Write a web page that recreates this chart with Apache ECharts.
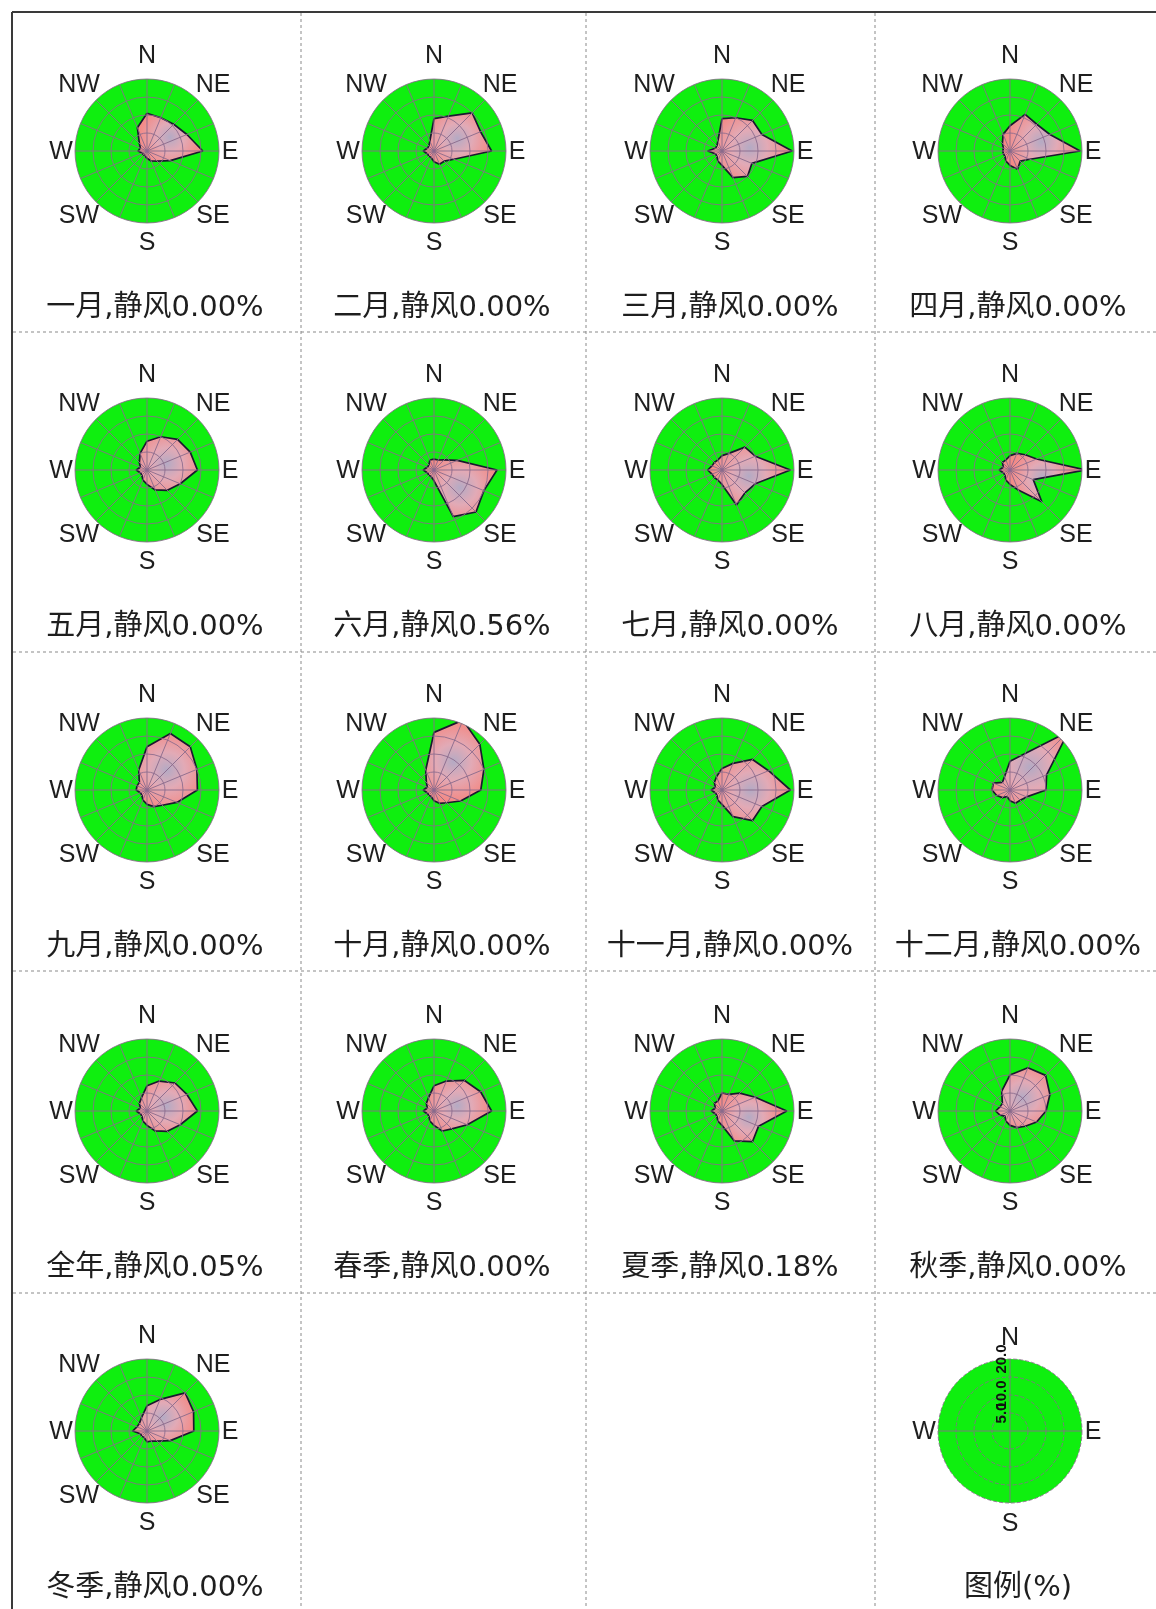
<!DOCTYPE html>
<html>
<head>
<meta charset="utf-8">
<script src="https://cdn.jsdelivr.net/npm/echarts@6/dist/echarts.min.js"></script>
<style>
  html, body { margin: 0; padding: 0; background: #ffffff; }
  #chart { width: 1156px; height: 1609px; }
</style>
</head>
<body>
<div id="chart"></div>
<script>
// Sixteen compass directions, clockwise from north
const directions = ['N','NNE','NE','ENE','E','ESE','SE','SSE','S','SSW','SW','WSW','W','WNW','NW','NNW'];

// Wind direction frequencies (%) for each period, in the order of `directions`
const jan    = [10.5, 10, 10.5, 12, 15.5, 7, 4, 3, 2, 1.5, 1.5, 1.5, 2.5, 2, 3, 7];
const feb    = [9, 10.5, 15, 14, 16, 6, 4, 4, 3, 2, 2, 2, 3, 2, 2, 3];
const mar    = [9, 10, 12, 12, 19.5, 9, 10, 8, 4, 3, 2, 2, 4, 2, 2, 3];
const apr    = [7, 11, 10.5, 12, 19.5, 6, 4, 5.5, 4, 3, 2, 2, 2, 2, 3, 5];
const may    = [8, 10, 12, 13, 14, 10, 8, 6, 4, 3, 2, 2, 3, 2, 3, 5];
const jun    = [3, 3, 4, 7, 17.5, 15, 16.5, 14, 3, 2, 2, 2, 3, 2, 2, 3];
const jul    = [4, 5, 9, 10, 19, 10, 9, 10.5, 4, 3, 3, 3, 4, 3, 3, 3];
const aug    = [4, 5, 6, 8, 21, 7, 12.5, 6, 4, 3, 2, 2, 3, 2, 3, 3];
const sep    = [12, 17, 17, 15, 14, 9, 6, 5, 4, 3, 2, 2, 3, 3, 3, 6];
const oct    = [16, 21, 18, 15, 13, 8, 5, 4, 3, 2, 2, 2, 3, 2, 3, 6];
const nov    = [6, 8, 12, 14, 19, 12, 12, 8, 4, 3, 2, 2, 3, 2, 3, 4];
const dec    = [8, 11, 23, 11, 10, 5, 4, 4, 3, 2, 3, 4, 5, 5, 3, 4];
const annual = [7, 9, 11, 12, 14, 10, 8, 6, 4, 3, 2, 2, 3, 2, 3, 4];
const spring = [7, 9, 12, 14, 16, 10, 7, 6, 4, 3, 2, 2, 3, 2, 3, 4];
const summer = [5, 5, 7, 10, 18, 11, 12, 9, 4, 3, 2, 2, 3, 2, 3, 3];
const autumn = [10, 13, 14, 12, 10, 8, 6, 5, 4, 3, 2, 3, 4, 3, 3, 6];
const winter = [7, 9.5, 15, 14, 13, 7, 4, 3, 3, 2, 2, 2, 4, 3, 3, 4];

// Period names and calm-wind percentages
const periodNames = ['一月','二月','三月','四月','五月','六月','七月','八月','九月','十月','十一月','十二月','全年','春季','夏季','秋季','冬季'];
const calmPercent = [0.00, 0.00, 0.00, 0.00, 0.00, 0.56, 0.00, 0.00, 0.00, 0.00, 0.00, 0.00, 0.05, 0.00, 0.18, 0.00, 0.00];
const periodFreqs = [jan, feb, mar, apr, may, jun, jul, aug, sep, oct, nov, dec, annual, spring, summer, autumn, winter];

// Radial scale (%) and legend ring labels
const radiusMax = 20;
const radiusStep = 5;
const legendTitle = '图例(%)';

// Page layout
const colCenters = [147, 434, 722, 1010];
const rowCenters = [151, 470, 790, 1111, 1431];
const roseRadius = 72;
const dirLabels = [
  ['N', 0, -95], ['NE', 66, -66], ['E', 83, 1], ['SE', 66, 65],
  ['S', 0, 92], ['SW', -68, 65], ['W', -86, 1], ['NW', -68, -66]
];
const legendDirLabels = [['N', 0, -93], ['E', 83, 1], ['S', 0, 93], ['W', -86, 1]];

const GREEN = '#0fef0f';
const GRID_COLOR = '#8a6a8c';
const LABEL_FONT = '25px "Liberation Sans", Arial, sans-serif';
const CAPTION_FONT = '29px "DejaVu Sans", "Noto Sans CJK SC", sans-serif';

const polar = [], angleAxis = [], radiusAxis = [], series = [], graphic = [];

function addText(text, x, y, font, color) {
  graphic.push({
    type: 'text', x: x, y: y, silent: true, z: 20,
    style: {
      text: text, font: font, fill: color || '#1e1e1e',
      align: 'center', verticalAlign: 'middle',
      textAlign: 'center', textVerticalAlign: 'middle'
    }
  });
}

// One rose = a green base disk (below the data) + a grid overlay (above the data)
function addRoseFrame(cx, cy, spokeStep, ringDashed, showRingLabels) {
  const base = polar.length;
  polar.push({ center: [cx, cy], radius: roseRadius });
  angleAxis.push({
    polarIndex: base, type: 'value', min: 0, max: 360, interval: spokeStep,
    startAngle: 90, clockwise: true, z: 0,
    axisLine: { show: false }, axisTick: { show: false }, axisLabel: { show: false },
    splitLine: { show: false },
    splitArea: { show: true, areaStyle: { color: [GREEN] } }
  });
  radiusAxis.push({
    polarIndex: base, type: 'value', min: 0, max: radiusMax, interval: radiusStep, z: 0,
    axisLine: { show: false }, axisTick: { show: false }, axisLabel: { show: false },
    splitLine: { show: false }
  });

  const over = polar.length;
  polar.push({ center: [cx, cy], radius: roseRadius });
  angleAxis.push({
    polarIndex: over, type: 'value', min: 0, max: 360, interval: spokeStep,
    startAngle: 90, clockwise: true, z: 5,
    axisLine: { show: false }, axisTick: { show: false }, axisLabel: { show: false },
    splitLine: { show: true, lineStyle: { color: GRID_COLOR, width: 1, opacity: 0.9 } },
    splitArea: { show: false }
  });
  radiusAxis.push({
    polarIndex: over, type: 'value', min: 0, max: radiusMax, interval: radiusStep, z: 6,
    axisLine: { show: false }, axisTick: { show: false },
    axisLabel: {
      show: !!showRingLabels, showMinLabel: false, showMaxLabel: true, rotate: 90, margin: 1,
      fontSize: 15, fontWeight: 'bold', color: '#111', fontFamily: 'Liberation Sans',
      formatter: function (v) { return v.toFixed(1); }
    },
    splitLine: { show: true, lineStyle: { color: GRID_COLOR, width: 1, opacity: 0.85, type: ringDashed ? 'dashed' : 'solid' } }
  });
  return base;
}

periodFreqs.forEach(function (vals, k) {
  const row = Math.floor(k / 4), col = k % 4;
  const cx = colCenters[col], cy = rowCenters[row];
  const base = addRoseFrame(cx, cy, 360 / directions.length, false, false);

  const pts = vals.map(function (v, i) { return [v, i * 360 / directions.length]; });
  pts.push([vals[0], 360]);
  series.push({
    type: 'line', coordinateSystem: 'polar', polarIndex: base,
    data: pts, symbol: 'none', clip: false, silent: true, z: 2,
    lineStyle: { color: '#1a1a30', width: 1.7 },
    areaStyle: {
      opacity: 1,
      color: {
        type: 'radial', x: 0.5, y: 0.5, r: 0.65,
        colorStops: [
          { offset: 0, color: '#b4aac4' },
          { offset: 0.45, color: '#e2aab6' },
          { offset: 1, color: '#f38a86' }
        ]
      }
    }
  });

  dirLabels.forEach(function (d) { addText(d[0], cx + d[1], cy + d[2], LABEL_FONT); });
  addText(periodNames[k] + ',静风' + calmPercent[k].toFixed(2) + '%', cx + 8, cy + 157, CAPTION_FONT);
});

// Legend rose with ring values
(function () {
  const cx = colCenters[3], cy = rowCenters[4];
  addRoseFrame(cx, cy, 90, true, true);
  legendDirLabels.forEach(function (d) { addText(d[0], cx + d[1], cy + d[2], LABEL_FONT); });
  addText(legendTitle, cx + 8, cy + 157, CAPTION_FONT);
})();

// Frame and dashed cell dividers
const vDividers = [301, 586, 875];
const hDividers = [332, 652, 971, 1293];
graphic.push({ type: 'line', silent: true, z: 1, shape: { x1: 12, y1: 12, x2: 1156, y2: 12 }, style: { stroke: '#3a3a3a', lineWidth: 2 } });
graphic.push({ type: 'line', silent: true, z: 1, shape: { x1: 12, y1: 12, x2: 12, y2: 1609 }, style: { stroke: '#3a3a3a', lineWidth: 2 } });
vDividers.forEach(function (x) {
  graphic.push({ type: 'line', silent: true, z: 1, shape: { x1: x, y1: 13, x2: x, y2: 1609 }, style: { stroke: '#8a8a8a', lineWidth: 1, lineDash: [3, 3] } });
});
hDividers.forEach(function (y) {
  graphic.push({ type: 'line', silent: true, z: 1, shape: { x1: 13, y1: y, x2: 1156, y2: y }, style: { stroke: '#8a8a8a', lineWidth: 1, lineDash: [3, 3] } });
});

const chart = echarts.init(document.getElementById('chart'), null, { renderer: 'canvas' });
chart.setOption({
  backgroundColor: '#ffffff',
  animation: false,
  polar: polar,
  angleAxis: angleAxis,
  radiusAxis: radiusAxis,
  series: series,
  graphic: graphic
});
</script>
</body>
</html>
